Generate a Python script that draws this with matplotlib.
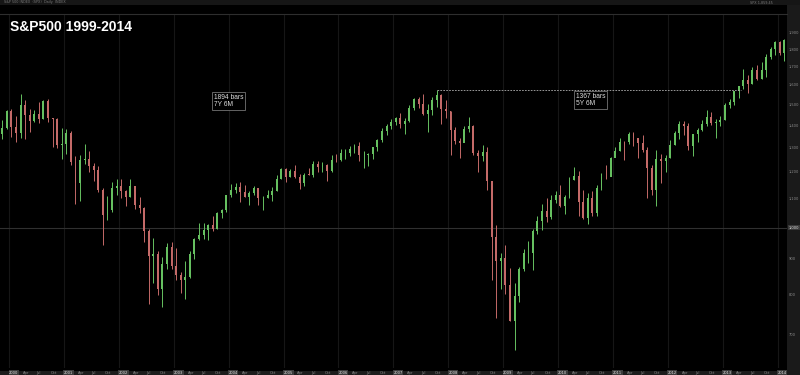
import matplotlib
matplotlib.use('Agg')
import matplotlib.pyplot as plt
import matplotlib.transforms as mtransforms
from matplotlib.patches import Rectangle
import pandas as pd

# monthly S&P500 bars, Nov 1999 .. Feb 2014 (open = previous close)
first_open = 1362.93
closes = [1388.91, 1469.25,
          1394.46, 1366.42, 1498.58, 1452.43, 1420.60, 1454.60, 1430.83, 1517.68, 1436.51, 1429.40, 1314.95, 1320.28,
          1366.01, 1239.94, 1160.33, 1249.46, 1255.82, 1224.42, 1211.23, 1133.58, 1040.94, 1059.78, 1139.45, 1148.08,
          1130.20, 1106.73, 1147.39, 1076.92, 1067.14, 989.82, 911.62, 916.07, 815.28, 885.76, 936.31, 879.82,
          855.70, 841.15, 848.18, 916.92, 963.59, 974.50, 990.31, 1008.01, 995.97, 1050.71, 1058.20, 1111.92,
          1131.13, 1144.94, 1126.21, 1107.30, 1120.68, 1140.84, 1101.72, 1104.24, 1114.58, 1130.20, 1173.82, 1211.92,
          1181.27, 1203.60, 1180.59, 1156.85, 1191.50, 1191.33, 1234.18, 1220.33, 1228.81, 1207.01, 1249.48, 1248.29,
          1280.08, 1280.66, 1294.87, 1310.61, 1270.09, 1270.20, 1276.66, 1303.82, 1335.85, 1377.94, 1400.63, 1418.30,
          1438.24, 1406.82, 1420.86, 1482.37, 1530.62, 1503.35, 1455.27, 1473.99, 1526.75, 1549.38, 1481.14, 1468.36,
          1378.55, 1330.63, 1322.70, 1385.59, 1400.38, 1280.00, 1267.38, 1282.83, 1166.36, 968.75, 896.24, 903.25,
          825.88, 735.09, 797.87, 872.81, 919.14, 919.32, 987.48, 1020.62, 1057.08, 1036.19, 1095.63, 1115.10,
          1073.87, 1104.49, 1169.43, 1186.69, 1089.41, 1030.71, 1101.60, 1049.33, 1141.20, 1183.26, 1180.55, 1257.64,
          1286.12, 1327.22, 1325.83, 1363.61, 1345.20, 1320.64, 1292.28, 1218.89, 1131.42, 1253.30, 1246.96, 1257.60,
          1312.41, 1365.68, 1408.47, 1397.91, 1310.33, 1362.16, 1379.32, 1406.58, 1440.67, 1412.16, 1416.18, 1426.19,
          1498.11, 1514.68, 1569.19, 1597.57, 1630.74, 1606.28, 1685.73, 1632.97, 1681.55, 1756.54, 1805.81, 1848.36,
          1782.59, 1859.45]
highs = [1427, 1473,
         1478, 1444, 1553, 1527, 1481, 1475, 1517, 1525, 1531, 1437, 1436, 1389,
         1384, 1376, 1267, 1269, 1316, 1287, 1239, 1226, 1141, 1110, 1163, 1173,
         1176, 1131, 1173, 1147, 1106, 1070, 994, 965, 925, 907, 951, 954,
         935, 864, 895, 924, 965, 1016, 1015, 1011, 1040, 1054, 1063, 1112,
         1155, 1159, 1163, 1150, 1128, 1147, 1141, 1109, 1131, 1142, 1188, 1218,
         1217, 1212, 1229, 1192, 1199, 1219, 1246, 1245, 1244, 1233, 1270, 1276,
         1295, 1297, 1310, 1318, 1326, 1290, 1281, 1307, 1340, 1390, 1407, 1431,
         1441, 1461, 1438, 1499, 1535, 1541, 1556, 1504, 1539, 1576, 1553, 1524,
         1471, 1396, 1344, 1397, 1440, 1404, 1293, 1313, 1303, 1167, 1007, 919,
         944, 875, 832, 878, 930, 957, 996, 1039, 1080, 1101, 1113, 1130,
         1150, 1113, 1181, 1220, 1206, 1131, 1120, 1130, 1151, 1196, 1228, 1263,
         1303, 1345, 1333, 1370, 1371, 1346, 1357, 1307, 1230, 1293, 1277, 1270,
         1334, 1378, 1420, 1422, 1415, 1363, 1392, 1427, 1475, 1465, 1434, 1448,
         1510, 1530, 1570, 1598, 1687, 1654, 1698, 1709, 1730, 1775, 1814, 1850,
         1851, 1867]
lows = [1342, 1387,
        1350, 1325, 1346, 1339, 1370, 1416, 1413, 1430, 1419, 1305, 1301, 1254,
        1274, 1228, 1081, 1091, 1232, 1203, 1165, 1124, 944, 1026, 1054, 1114,
        1101, 1074, 1106, 1063, 1049, 953, 776, 833, 801, 769, 873, 872,
        840, 806, 789, 847, 902, 960, 962, 960, 990, 996, 1031, 1053,
        1105, 1122, 1088, 1107, 1076, 1114, 1079, 1060, 1102, 1090, 1127, 1173,
        1164, 1180, 1177, 1137, 1146, 1188, 1183, 1201, 1201, 1168, 1202, 1243,
        1245, 1253, 1268, 1280, 1245, 1219, 1224, 1253, 1290, 1327, 1360, 1385,
        1403, 1389, 1364, 1416, 1476, 1484, 1452, 1371, 1452, 1489, 1407, 1435,
        1270, 1317, 1257, 1325, 1373, 1272, 1200, 1248, 1134, 840, 741, 815,
        804, 735, 667, 783, 866, 888, 869, 979, 992, 1020, 1029, 1086,
        1071, 1045, 1101, 1170, 1040, 1028, 1011, 1040, 1039, 1132, 1174, 1186,
        1262, 1290, 1249, 1320, 1311, 1258, 1282, 1101, 1114, 1075, 1158, 1203,
        1259, 1312, 1340, 1357, 1292, 1267, 1325, 1375, 1397, 1403, 1343, 1399,
        1426, 1485, 1501, 1536, 1581, 1560, 1605, 1627, 1633, 1646, 1746, 1768,
        1770, 1737]
months = pd.date_range('1999-11-01', periods=len(closes), freq='MS')
price_ticks = [700, 800, 900, 1000, 1100, 1200, 1300, 1400, 1500, 1600, 1700, 1800, 1900]

opens = [first_open] + closes[:-1]
xs = [i + 0.5 for i in range(len(closes))]
up_col, dn_col = '#66c060', '#c46a68'
cols = [up_col if c >= o else dn_col for o, c in zip(opens, closes)]

fig = plt.figure(figsize=(8, 3.75), dpi=100, facecolor='black')
ax = fig.add_axes([0, 7 / 375, 787 / 800, 354 / 375])
ax.set_facecolor('black')
ax.set_yscale('log')
ax.set_ylim(628.5, 2026)
ax.set_xlim(0, 172.06)
ax.set_xticks([])
ax.set_yticks([])
ax.minorticks_off()
for s in ['left', 'right', 'bottom']:
    ax.spines[s].set_visible(False)
ax.spines['top'].set_color('#2e2e2e')
ax.spines['top'].set_linewidth(0.8)

# side panels
fig.add_artist(Rectangle((787 / 800, 0), 13 / 800, 1, transform=fig.transFigure,
                         facecolor='#1a1a1a', edgecolor='none', zorder=-5))
fig.add_artist(Rectangle((0, 0), 787 / 800, 4 / 375, transform=fig.transFigure,
                         facecolor='#1c1c1c', edgecolor='none', zorder=-5))
fig.add_artist(Rectangle((0, 1 - 5 / 375), 1, 5 / 375, transform=fig.transFigure,
                         facecolor='#161616', edgecolor='none', zorder=-5))

# year grid + 1000 line
for i, m in enumerate(months):
    if m.month == 1:
        ax.axvline(i, color='#161616', lw=0.8, zorder=0)
ax.axhline(1000, color='#303030', lw=0.8, zorder=0)

# candles
ax.vlines(xs, lows, highs, colors=cols, lw=0.7, zorder=2)
bottoms = [min(o, c) for o, c in zip(opens, closes)]
heights = [max(abs(c - o), 1.5) for o, c in zip(opens, closes)]
ax.bar(xs, heights, bottom=bottoms, width=0.42, color=cols, linewidth=0, zorder=3)

# 2007 high carried forward to the 2013 breakout
peak_i = max(range(len(highs)), key=lambda i: highs[i] if months[i].year < 2009 else 0)
cross_i = next(i for i in range(peak_i + 1, len(highs)) if highs[i] >= highs[peak_i])
ax.plot([xs[peak_i], xs[cross_i] + 0.5], [highs[peak_i]] * 2, color='#b0b0b0',
        lw=0.6, ls=(0, (2, 1.5)), zorder=4)

box = dict(boxstyle='square,pad=0.25', facecolor='black', edgecolor='#8a8a8a', lw=0.5)
ax.text(46.8, 1555, '1894 bars\n7Y 6M', color='#dddddd', fontsize=4.8, va='top', ha='left',
        family='Liberation Sans', linespacing=1.05, bbox=box, zorder=5)
ax.text(125.9, 1562, '1367 bars\n5Y 6M', color='#dddddd', fontsize=4.8, va='top', ha='left',
        family='Liberation Sans', linespacing=1.05, bbox=box, zorder=5)

fig.text(10 / 800, 1 - 27 / 375, 'S&P500 1999-2014', color='white', fontsize=10,
         fontweight='bold', family='Liberation Sans', va='center', ha='left')
fig.text(4 / 800, 1 - 2.5 / 375, 'S&P 500 INDEX  (SPX)  Daily  INDEX', color='#7a7a7a',
         fontsize=2.4, va='center', ha='left')
fig.text(750 / 800, 1 - 2.5 / 375, 'SPX 1,859.45', color='#7a7a7a',
         fontsize=2.4, va='center', ha='left')

# right price scale
ty = mtransforms.blended_transform_factory(fig.transFigure, ax.transData)
for p in price_ticks:
    hl = p == 1000
    fig.text(789 / 800, p, f'{p:,}', transform=ty, color='#dddddd' if hl else '#8a8a8a',
             fontsize=2.6, va='center', ha='left',
             bbox=dict(boxstyle='square,pad=0.15', facecolor='#3a3a3a', edgecolor='none') if hl else None)

# bottom time scale
tx = mtransforms.blended_transform_factory(ax.transData, fig.transFigure)
for i, m in enumerate(months):
    if m.month == 1:
        fig.text(i, 2 / 375, str(m.year), transform=tx, color='#dddddd', fontsize=2.6,
                 va='center', ha='left',
                 bbox=dict(boxstyle='square,pad=0.15', facecolor='#3c3c3c', edgecolor='none'))
    elif m.month in (4, 7, 10):
        fig.text(i, 2 / 375, m.strftime('%b'), transform=tx, color='#8a8a8a', fontsize=2.6,
                 va='center', ha='left')

fig.savefig('out.png', dpi=100, facecolor='black')
